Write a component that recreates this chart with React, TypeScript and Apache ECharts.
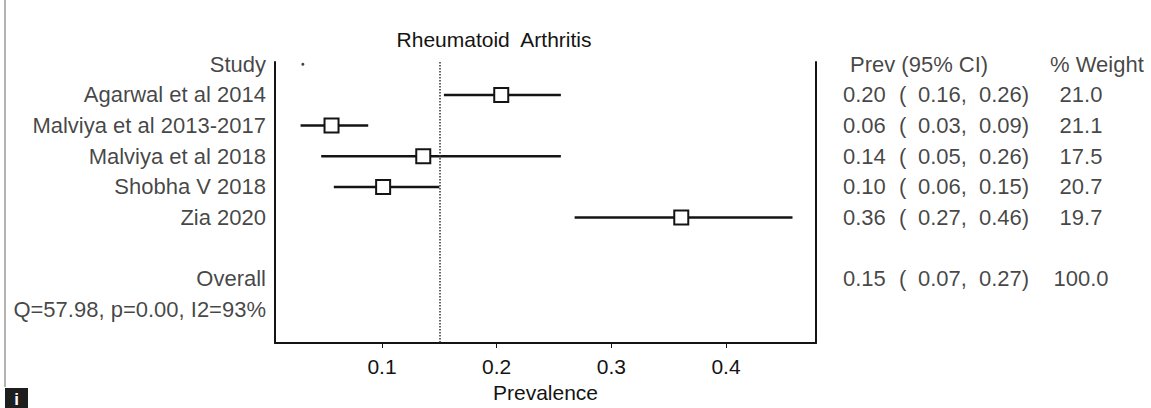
import React, { useEffect, useRef } from "react";
import * as echarts from "echarts";

// ---- data ----
const rowLabels = [
  "Study",
  "Agarwal et al 2014",
  "Malviya et al 2013-2017",
  "Malviya et al 2018",
  "Shobha V 2018",
  "Zia 2020",
  "",
  "Overall",
  "Q=57.98, p=0.00, I2=93%",
];
const studyRows = [1, 2, 3, 4, 5];
const estimates = [0.204, 0.056, 0.136, 0.101, 0.361];
const ciLower = [0.154, 0.029, 0.047, 0.058, 0.268];
const ciUpper = [0.256, 0.088, 0.256, 0.15, 0.458];
const pooled = 0.1545;
const strayDot = [0.031, 0];

const tableRows = [1, 2, 3, 4, 5, 7];
const prevText = ["0.20", "0.06", "0.14", "0.10", "0.36", "0.15"];
const loText = ["0.16", "0.03", "0.05", "0.06", "0.27", "0.07"];
const hiText = ["0.26", "0.09", "0.26", "0.15", "0.46", "0.27"];
const weightText = ["21.0", "21.1", "17.5", "20.7", "19.7", "100.0"];
const xTicks = [0.1, 0.2, 0.3, 0.4];

const X_MIN = 0.0067;
const X_MAX = 0.4785;
const Y_MIN = -0.075;
const Y_MAX = 9.09;

const FONT = "'Liberation Sans', Arial, Helvetica, sans-serif";
const INK = "#141414";

export default function App() {
  const ref = useRef<HTMLDivElement>(null);

  useEffect(() => {
    if (!ref.current) return;
    const chart = echarts.init(ref.current, undefined, { renderer: "svg" });

    const txt = { fontFamily: FONT, fontSize: 22, color: INK };
    const txtS = { fontFamily: FONT, fontSize: 21, color: INK };

    const option: any = {
      animation: false,
      backgroundColor: "#fff",
      title: {
        text: "Rheumatoid  Arthritis",
        left: 494,
        top: 29,
        padding: 0,
        textAlign: "center",
        textStyle: { ...txtS, fontWeight: "normal" },
      },
      grid: [
        { left: 275, right: 335, top: 62, bottom: 65 },
        { left: 816, right: 0, top: 62, bottom: 65 },
      ],
      xAxis: [
        {
          gridIndex: 0,
          type: "value",
          min: X_MIN,
          max: X_MAX,
          axisLine: { show: true, onZero: false, lineStyle: { color: INK, width: 2 } },
          axisTick: {
            show: true,
            length: 5,
            customValues: xTicks,
            lineStyle: { color: INK, width: 1 },
          },
          axisLabel: {
            customValues: xTicks,
            margin: 13,
            ...txtS,
            formatter: (v: number) => v.toFixed(1),
          },
          splitLine: { show: false },
          name: "Prevalence",
          nameLocation: "middle",
          nameGap: 39,
          nameTextStyle: txtS,
        },
        { gridIndex: 1, type: "value", min: 0, max: 335, show: false },
      ],
      yAxis: [
        {
          gridIndex: 0,
          type: "value",
          inverse: true,
          min: Y_MIN,
          max: Y_MAX,
          axisLine: { show: true, onZero: false, lineStyle: { color: INK, width: 2 } },
          axisTick: { show: false },
          axisLabel: { show: false },
          splitLine: { show: false },
        },
        {
          gridIndex: 0,
          type: "value",
          position: "right",
          inverse: true,
          min: Y_MIN,
          max: Y_MAX,
          axisLine: { show: true, onZero: false, lineStyle: { color: INK, width: 2 } },
          axisTick: { show: false },
          axisLabel: { show: false },
          splitLine: { show: false },
        },
        { gridIndex: 1, type: "value", inverse: true, min: Y_MIN, max: Y_MAX, show: false },
      ],
      series: [
        {
          type: "custom",
          xAxisIndex: 0,
          yAxisIndex: 0,
          data: studyRows.map((r, i) => [r, estimates[i], ciLower[i], ciUpper[i]]),
          encode: { x: [1, 2, 3], y: 0 },
          renderItem: (_params: any, api: any) => {
            const p = api.value(0);
            const a = api.coord([api.value(2), p]);
            const b = api.coord([api.value(3), p]);
            const c = api.coord([api.value(1), p]);
            const s = 14;
            return {
              type: "group",
              children: [
                {
                  type: "line",
                  shape: { x1: a[0], y1: a[1], x2: b[0], y2: b[1] },
                  style: { stroke: INK, lineWidth: 2.5 },
                },
                {
                  type: "rect",
                  shape: { x: c[0] - s / 2, y: c[1] - s / 2, width: s, height: s },
                  style: { fill: "#fff", stroke: INK, lineWidth: 2 },
                },
              ],
            };
          },
          markLine: {
            silent: true,
            symbol: "none",
            label: { show: false },
            lineStyle: { color: "#333", type: "dotted", width: 1.5 },
            data: [{ xAxis: pooled }],
          },
        },
        {
          type: "scatter",
          xAxisIndex: 0,
          yAxisIndex: 0,
          symbol: "circle",
          symbolSize: 3,
          itemStyle: { color: INK },
          data: [strayDot],
        },
        {
          type: "scatter",
          xAxisIndex: 0,
          yAxisIndex: 0,
          symbolSize: 0,
          clip: false,
          data: rowLabels
            .map((name, i) => ({ name, value: [X_MIN, i] }))
            .filter((d) => d.name !== ""),
          label: {
            show: true,
            position: "left",
            distance: 9,
            formatter: "{b}",
            ...txt,
          },
        },
        {
          type: "scatter",
          xAxisIndex: 1,
          yAxisIndex: 2,
          symbolSize: 0,
          clip: false,
          data: [
            { name: "Prev (95% CI)", value: [34, 0] },
            { name: "% Weight", value: [234, 0] },
          ],
          label: { show: true, position: "right", distance: 0, formatter: "{b}", ...txt },
        },
        {
          type: "scatter",
          xAxisIndex: 1,
          yAxisIndex: 2,
          symbolSize: 0,
          clip: false,
          data: tableRows.map((r, i) => ({
            value: [27, r],
            name: `{a|${prevText[i]}}{b|(}{c|${loText[i]},}{d|${hiText[i]})}`,
          })),
          label: {
            show: true,
            position: "right",
            distance: 0,
            formatter: "{b}",
            ...txt,
            rich: {
              a: { ...txt, width: 56 },
              b: { ...txt, width: 19 },
              c: { ...txt, width: 61 },
              d: { ...txt },
            },
          },
        },
        {
          type: "scatter",
          xAxisIndex: 1,
          yAxisIndex: 2,
          symbolSize: 0,
          clip: false,
          data: tableRows.map((r, i) => ({ value: [265, r], name: weightText[i] })),
          label: {
            show: true,
            position: "inside",
            formatter: "{b}",
            ...txt,
          },
        },
      ],
      graphic: [
        {
          type: "line",
          shape: { x1: 5, y1: 0, x2: 5, y2: 387 },
          style: { stroke: "#666", lineWidth: 1 },
        },
        {
          type: "rect",
          shape: { x: 5, y: 388, width: 23, height: 20 },
          style: { fill: "#1e1e1e" },
        },
        {
          type: "text",
          x: 16.5,
          y: 399,
          style: {
            text: "i",
            fill: "#fff",
            fontFamily: FONT,
            fontSize: 17,
            fontWeight: "bold",
            align: "center",
            verticalAlign: "middle",
          },
        },
      ],
    };

    chart.setOption(option);
    return () => chart.dispose();
  }, []);

  return (
    <div
      ref={ref}
      style={{ position: "fixed", left: 0, top: 0, width: 1151, height: 408 }}
    />
  );
}
